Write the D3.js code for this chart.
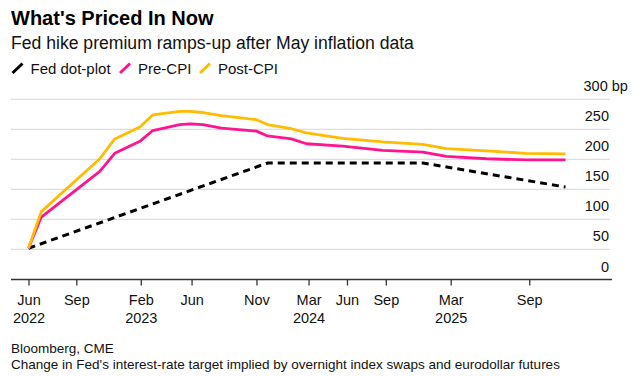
<!DOCTYPE html>
<html>
<head>
<meta charset="utf-8">
<script src="https://cdn.jsdelivr.net/npm/d3@7"></script>
<style>
  html, body { margin: 0; padding: 0; background: #fff; }
  svg { display: block; font-family: "Liberation Sans", Arial, sans-serif; }
</style>
</head>
<body>
<svg id="chart" width="634" height="376"></svg>
<script>
// ---- Data ----
const dates = [
  "2022-06-01","2022-07-01","2022-11-15","2022-12-20","2023-02-17","2023-03-19",
  "2023-05-21","2023-06-14","2023-07-15","2023-08-27","2023-11-17","2023-12-13",
  "2024-02-07","2024-03-13","2024-06-06","2024-09-08","2024-12-11","2025-02-04",
  "2025-05-09","2025-08-10","2025-11-10"
];
const postCPI = [52,113,201,234,254,274,280,280,278,273,266,258,251,244,235,229,225,218,214,210,209];
const preCPI  = [52,104,180,210,230,248,258,259,258,252,247,239,234,226,222,215,212,205,201,199,199];
const dotDates = ["2022-06-01","2023-12-13","2024-12-11","2025-11-10"];
const dotPlot  = [52,194,194,154];

const tickDates  = ["2022-06-01","2022-09-21","2023-02-19","2023-06-18","2023-11-17","2024-03-18","2024-06-16","2024-09-15","2025-02-14","2025-08-17"];
const tickMonths = ["Jun","Sep","Feb","Jun","Nov","Mar","Jun","Sep","Mar","Sep"];
const tickYears  = ["2022","","2023","","","2024","","","2025",""];
const yTicks = [0,50,100,150,200,250,300];

const seriesNames  = ["Fed dot-plot","Pre-CPI","Post-CPI"];
const seriesColors = ["#000000","#ff148f","#ffbb00"];

// ---- Setup ----
const parse = d3.timeParse("%Y-%m-%d");
const svg = d3.select("#chart");

const x = d3.scaleTime()
  .domain([parse("2022-06-01"), parse("2025-12-01")])
  .range([28.5, 574.5]);
const y = d3.scaleLinear().domain([0, 300]).range([279.5, 99.3]);

// Title / subtitle
svg.append("text").attr("x", 11).attr("y", 25)
  .attr("font-size", 20).attr("font-weight", "bold").attr("fill", "#000")
  .text("What's Priced In Now");
svg.append("text").attr("x", 11).attr("y", 48.5)
  .attr("font-size", 17.6).attr("fill", "#111")
  .text("Fed hike premium ramps-up after May inflation data");

// Legend
const legX = [12, 119.5, 199.5];
const leg = svg.append("g");
seriesNames.forEach((name, i) => {
  const g = leg.append("g").attr("transform", `translate(${legX[i]},0)`);
  g.append("line").attr("x1", 0.5).attr("y1", 73).attr("x2", 10.5).attr("y2", 63.5)
    .attr("stroke", seriesColors[i]).attr("stroke-width", 3);
  g.append("text").attr("x", 18.5).attr("y", 73.5)
    .attr("font-size", 15).attr("fill", "#111").text(name);
});

// Gridlines
svg.append("g").selectAll("line").data(yTicks.filter(d => d > 0)).join("line")
  .attr("x1", 11).attr("x2", 610)
  .attr("y1", d => y(d)).attr("y2", d => y(d))
  .attr("stroke", "#dedede").attr("stroke-width", 1.3);

// Y labels
const yl = svg.append("g").selectAll("text").data(yTicks).join("text")
  .attr("x", 609).attr("y", d => y(d) - 8)
  .attr("font-size", 14.5).attr("fill", "#111");
yl.each(function(d) {
  const t = d3.select(this);
  if (d === 300) {
    t.attr("text-anchor", "start").attr("x", 583.5).text("300 bp");
  } else {
    t.attr("text-anchor", "end").text(d);
  }
});

// X axis
const xAxis = d3.axisBottom(x)
  .tickValues(tickDates.map(parse))
  .tickSize(6)
  .tickPadding(8)
  .tickFormat((d, i) => tickMonths[i]);
const gx = svg.append("g").attr("transform", `translate(0,${y(0)})`).call(xAxis);
gx.select(".domain").remove();
gx.insert("line", ":first-child").attr("x1", 11).attr("x2", 612).attr("y1", 0).attr("y2", 0)
  .attr("stroke", "#333").attr("stroke-width", 1.3);
gx.selectAll(".tick line").attr("stroke", "#333").attr("stroke-width", 1.3);
gx.selectAll(".tick text").attr("font-size", 14.5).attr("fill", "#111")
  .attr("font-family", "Liberation Sans, Arial, sans-serif")
  .attr("dy", null).attr("y", 25);
gx.selectAll(".tick").append("text")
  .attr("y", 43).attr("text-anchor", "middle").attr("fill", "#111")
  .attr("font-size", 14.5).attr("font-family", "Liberation Sans, Arial, sans-serif")
  .text((d, i) => tickYears[i]);

// Lines
const line = d3.line().x(d => x(d[0])).y(d => y(d[1]));
const mk = (ds, vs) => ds.map((d, i) => [parse(d), vs[i]]);

svg.append("path").datum(mk(dotDates, dotPlot)).attr("d", line)
  .attr("fill", "none").attr("stroke", seriesColors[0]).attr("stroke-width", 3)
  .attr("stroke-dasharray", "7,5");
svg.append("path").datum(mk(dates, preCPI)).attr("d", line)
  .attr("fill", "none").attr("stroke", seriesColors[1]).attr("stroke-width", 2.8)
  .attr("stroke-linejoin", "round");
svg.append("path").datum(mk(dates, postCPI)).attr("d", line)
  .attr("fill", "none").attr("stroke", seriesColors[2]).attr("stroke-width", 2.8)
  .attr("stroke-linejoin", "round");

// Footer
svg.append("text").attr("x", 11).attr("y", 352.5).attr("font-size", 13.5).attr("fill", "#111")
  .text("Bloomberg, CME");
svg.append("text").attr("x", 11).attr("y", 368.5).attr("font-size", 13.5).attr("fill", "#111")
  .text("Change in Fed's interest-rate target implied by overnight index swaps and eurodollar futures");
</script>
</body>
</html>
